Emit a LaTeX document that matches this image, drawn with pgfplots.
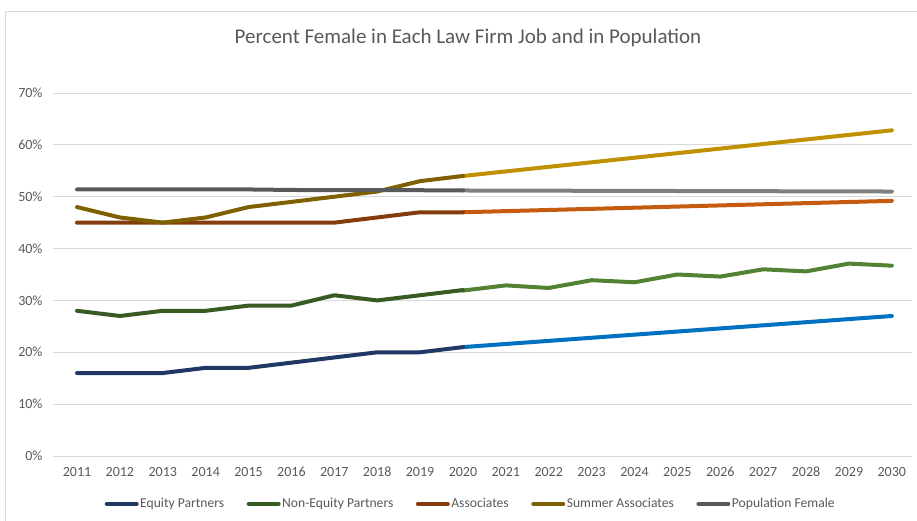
\documentclass[border=0pt]{standalone}
\usepackage{pgfplots}
\pgfplotsset{compat=1.18}
\usepackage{fontspec}
\setmainfont{Carlito}
\definecolor{txt}{HTML}{595959}
\definecolor{gridc}{HTML}{D9D9D9}
\definecolor{eqd}{HTML}{203864}
\definecolor{eqp}{HTML}{0070C0}
\definecolor{neqd}{HTML}{3A5A24}
\definecolor{neqp}{HTML}{548235}
\definecolor{asd}{HTML}{843C0C}
\definecolor{asp}{HTML}{C55A11}
\definecolor{sud}{HTML}{7F6000}
\definecolor{sup}{HTML}{BF9000}
\definecolor{pod}{HTML}{595959}
\definecolor{pop}{HTML}{7F7F7F}
\begin{document}
\begin{tikzpicture}
\path[use as bounding box] (-53pt,-65pt) rectangle (864pt,456pt);
\draw[gridc, line width=0.75pt] (-48pt,-65pt) -- (-48pt,445pt) -- (864pt,445pt);
\node[text=txt, font=\fontsize{21}{25}\selectfont] at (415pt,418pt) {Percent Female in Each Law Firm Job and in Population};
\begin{axis}[
  name=ax, at={(0,0)}, anchor=south west,
  scale only axis, width=859pt, height=363pt,
  xmin=2010.44, xmax=2030.47, ymin=0, ymax=70,
  axis line style={draw=none}, tick style={draw=none}, major tick length=0pt,
  ymajorgrids, grid style={gridc, line width=0.75pt},
  xtick={2011,...,2030}, ytick={0,10,...,70},
  /pgf/number format/assume math mode=true,
  /pgf/number format/1000 sep={},
  yticklabel={\pgfmathprintnumber{\tick}\%},
  tick label style={text=txt, font=\fontsize{14}{16}\selectfont},
  xticklabel style={yshift=-8pt, text height=9pt, text depth=0pt},
  yticklabel style={xshift=-7pt},
  legend columns=5,
  legend style={at={(0.486,-0.132)}, anchor=center, draw=none, fill=none,
    font=\fontsize{13.6}{16}\selectfont, text=txt,
    /tikz/every even column/.append style={column sep=21pt},
    nodes={inner sep=1.5pt}},
  legend image code/.code={\draw[#1, line width=4pt, line cap=round] (0pt,0pt) -- (30pt,0pt);},
  every axis plot/.append style={line width=4pt, line join=round, line cap=round},
]
% projections
\addplot[eqp, forget plot] coordinates {(2020,21) (2021,21.6) (2022,22.2) (2023,22.8) (2024,23.4) (2025,24) (2026,24.6) (2027,25.2) (2028,25.8) (2029,26.4) (2030,27)};
\addplot[neqp, forget plot] coordinates {(2020,31.9) (2021,32.9) (2022,32.4) (2023,33.9) (2024,33.5) (2025,35.0) (2026,34.6) (2027,36.0) (2028,35.6) (2029,37.1) (2030,36.7)};
\addplot[asp, forget plot] coordinates {(2020,47) (2021,47.22) (2022,47.44) (2023,47.66) (2024,47.88) (2025,48.1) (2026,48.32) (2027,48.54) (2028,48.76) (2029,48.98) (2030,49.2)};
\addplot[sup, forget plot] coordinates {(2020,54) (2021,54.88) (2022,55.76) (2023,56.64) (2024,57.52) (2025,58.4) (2026,59.28) (2027,60.16) (2028,61.04) (2029,61.92) (2030,62.8)};
\addplot[pop, forget plot] coordinates {(2020,51.2) (2021,51.18) (2022,51.16) (2023,51.14) (2024,51.12) (2025,51.1) (2026,51.08) (2027,51.06) (2028,51.04) (2029,51.02) (2030,51.0)};
% historical
\addplot[eqd] coordinates {(2011,16) (2012,16) (2013,16) (2014,17) (2015,17) (2016,18) (2017,19) (2018,20) (2019,20) (2020,21)};
\addlegendentry{Equity Partners}
\addplot[neqd] coordinates {(2011,28) (2012,27) (2013,28) (2014,28) (2015,29) (2016,29) (2017,31) (2018,30) (2019,31) (2020,32)};
\addlegendentry{Non-Equity Partners}
\addplot[asd] coordinates {(2011,45) (2012,45) (2013,45) (2014,45) (2015,45) (2016,45) (2017,45) (2018,46) (2019,47) (2020,47)};
\addlegendentry{Associates}
\addplot[sud] coordinates {(2011,48) (2012,46) (2013,45) (2014,46) (2015,48) (2016,49) (2017,50) (2018,51) (2019,53) (2020,54)};
\addlegendentry{Summer Associates}
\addplot[pod] coordinates {(2011,51.4) (2012,51.4) (2013,51.4) (2014,51.4) (2015,51.4) (2016,51.3) (2017,51.25) (2018,51.25) (2019,51.25) (2020,51.2)};
\addlegendentry{Population Female}
\end{axis}
\end{tikzpicture}
\end{document}
